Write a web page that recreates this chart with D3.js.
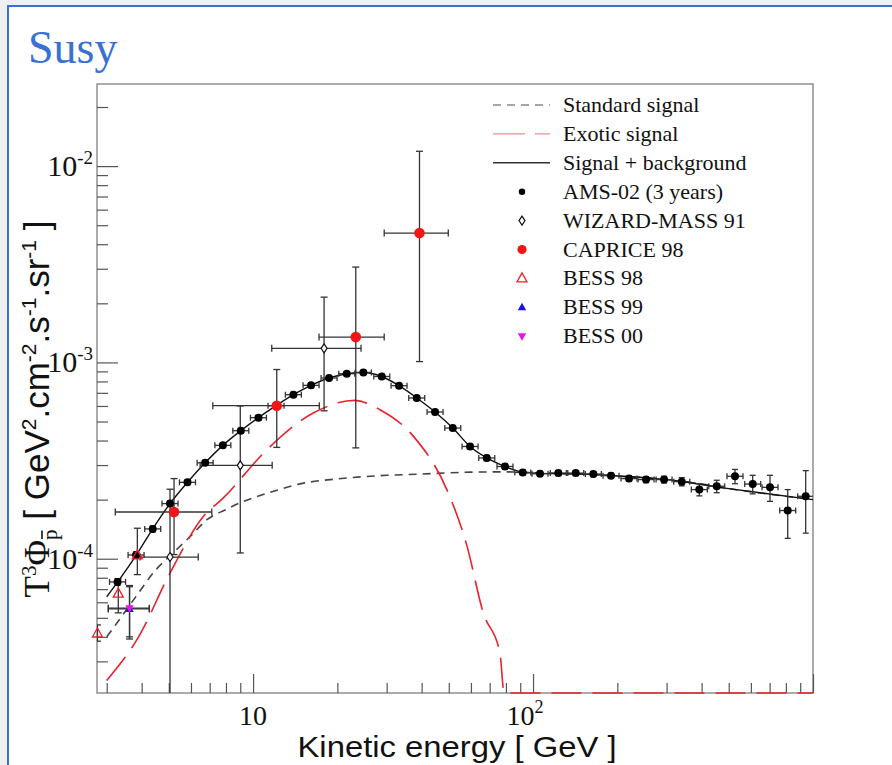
<!DOCTYPE html>
<html>
<head>
<meta charset="utf-8">
<script src="https://cdnjs.cloudflare.com/ajax/libs/d3/7.8.5/d3.min.js"></script>
<style>
  body { margin: 0; background: #eef0f1; }
  svg { display: block; }
</style>
</head>
<body>
<svg id="chart" width="892" height="765"></svg>
<script>
// ---- data ----
// AMS-02 (3 years) simulated points
var amsE = [3.28, 3.82, 4.38, 5.05, 5.83, 6.74, 7.80, 9.04, 10.45, 12.08, 13.93, 16.11, 18.68, 21.61, 24.77,
  28.82, 33.22, 38.42, 44.67, 51.68, 59.57, 68.34, 79.4, 91.9, 105.9, 123.1, 142.1, 164.2, 189.9, 220.2,
  253.3, 293.8, 339.8, 392.6, 453.0, 526.5, 609.0, 702.2, 812.2, 941.7];
var amsV = [7.62e-5, 1.045e-4, 1.419e-4, 1.909e-4, 2.45e-4, 3.08e-4, 3.78e-4, 4.49e-4, 5.23e-4, 6.02e-4,
  6.85e-4, 7.64e-4, 8.33e-4, 8.76e-4, 8.89e-4, 8.48e-4, 7.61e-4, 6.59e-4, 5.59e-4, 4.63e-4, 3.73e-4,
  3.26e-4, 2.95e-4, 2.75e-4, 2.71e-4, 2.73e-4, 2.73e-4, 2.70e-4, 2.65e-4, 2.56e-4, 2.53e-4, 2.53e-4,
  2.47e-4, 2.25e-4, 2.34e-4, 2.63e-4, 2.40e-4, 2.31e-4, 1.76e-4, 2.08e-4];
var amsErr = [0.3e-5, 0.4e-5, 0.5e-5, 0.6e-5, 0.7e-5, 0.9e-5, 1.0e-5, 1.2e-5, 1.4e-5, 1.6e-5, 1.8e-5, 2.0e-5,
  2.1e-5, 2.2e-5, 2.2e-5, 2.2e-5, 2.0e-5, 1.8e-5, 1.6e-5, 1.3e-5, 1.1e-5, 1.0e-5, 0.9e-5, 0.8e-5, 0.8e-5,
  0.8e-5, 0.8e-5, 0.8e-5, 0.8e-5, 0.8e-5, 0.9e-5, 1.0e-5, 1.2e-5, 1.6e-5, 1.7e-5, 2.2e-5, 2.6e-5, 3.5e-5,
  4.9e-5, 7.3e-5];
var amsBinRatio = 1.068; // half bin width, as ratio in energy

// WIZARD-MASS 91
var wizE = [5.05, 9.0, 17.93];
var wizV = [1.02e-4, 2.99e-4, 1.18e-3];
var wizLo = [1e-7, 1.07e-4, 5.67e-4];
var wizHi = [2.26e-4, 6.0e-4, 2.15e-3];
var wizELo = [3.95, 6.47, 11.66];
var wizEHi = [6.37, 11.7, 24.3];

// CAPRICE 98
var capE = [5.22, 12.15, 23.27, 39.3];
var capV = [1.73e-4, 6.02e-4, 1.346e-3, 4.56e-3];
var capLo = [1.05e-4, 3.69e-4, 3.67e-4, 1.01e-3];
var capHi = [2.56e-4, 9.2e-4, 3.06e-3, 1.19e-2];
var capELo = [3.22, 7.18, 17.2, 29.4];
var capEHi = [7.12, 17.24, 29.4, 49.8];

// BESS 98
var b98E = [2.78, 3.30, 3.86];
var b98V = [4.16e-5, 6.64e-5, 1.04e-4];
var b98Lo = [3.8e-5, 5.3e-5, 8.3e-5];
var b98Hi = [4.6e-5, 7.9e-5, 1.43e-4];

// BESS 99 and BESS 00 (same bin)
var b99E = [3.62], b99V = [5.55e-5], b99Lo = [3.9e-5], b99Hi = [7.2e-5], b99ELo = [3.04], b99EHi = [4.26];
var b00E = [3.62], b00V = [5.6e-5], b00Lo = [4.0e-5], b00Hi = [7.3e-5], b00ELo = [3.04], b00EHi = [4.26];

// curves
var stdE = [3.0, 3.5, 3.9, 4.5, 5.0, 6.0, 6.84, 8.0, 9.0, 10, 12, 15, 20, 25, 30, 40, 50, 60, 80, 100, 150,
  200, 300, 400, 485, 700, 1000];
var stdV = [4.0e-5, 5.4e-5, 6.7e-5, 8.8e-5, 1.02e-4, 1.31e-4, 1.58e-4, 1.78e-4, 1.93e-4, 2.04e-4, 2.22e-4,
  2.42e-4, 2.55e-4, 2.62e-4, 2.66e-4, 2.70e-4, 2.74e-4, 2.76e-4, 2.77e-4, 2.74e-4, 2.70e-4, 2.64e-4,
  2.53e-4, 2.40e-4, 2.29e-4, 2.13e-4, 2.0e-4];
var exoE = [3.0, 3.9, 5.06, 6.64, 7.83, 11.2, 16.4, 23.1, 28.4, 37.4, 49.2, 57.9, 66.4, 76.2, 78.7, 80, 1000];
var exoV = [2.4e-5, 4.0e-5, 8.5e-5, 1.64e-4, 2.04e-4, 3.59e-4, 5.52e-4, 6.41e-4, 5.74e-4, 4.2e-4, 2.25e-4,
  1.18e-4, 5.3e-5, 3.3e-5, 2.1e-5, 1e-7, 1e-7];
var totE = [3.0, 3.28, 3.82, 4.38, 5.05, 5.83, 6.74, 7.80, 9.04, 10.45, 12.08, 13.93, 16.11, 18.68, 21.61,
  24.77, 28.82, 33.22, 38.42, 44.67, 51.68, 59.57, 68.34, 79.4, 92, 106, 150, 200, 300, 485, 1000];
var totV = [6.4e-5, 7.6e-5, 1.04e-4, 1.42e-4, 1.91e-4, 2.45e-4, 3.08e-4, 3.78e-4, 4.49e-4, 5.23e-4, 6.02e-4,
  6.85e-4, 7.64e-4, 8.33e-4, 8.76e-4, 8.89e-4, 8.48e-4, 7.61e-4, 6.59e-4, 5.59e-4, 4.63e-4, 3.73e-4,
  3.26e-4, 2.95e-4, 2.76e-4, 2.72e-4, 2.70e-4, 2.64e-4, 2.53e-4, 2.29e-4, 2.0e-4];

// axis ticks
var xMajorTicks = [10, 100, 1000];
var xTickLabels = [["10", ""], ["10", "2"]];
var yMajorTicks = [1e-4, 1e-3, 1e-2];
var yTickLabels = [["10", "-4"], ["10", "-3"], ["10", "-2"]];

var legendItems = ["Standard signal", "Exotic signal", "Signal + background", "AMS-02 (3 years)",
  "WIZARD-MASS 91", "CAPRICE 98", "BESS 98", "BESS 99", "BESS 00"];

// ---- layout ----
var frame = {left: 97, right: 813, top: 84, bottom: 693};
var serif = "'Liberation Serif', 'Times New Roman', serif";
var sans = "'Liberation Sans', Arial, sans-serif";
var red = "#e8232b";

var svg = d3.select("#chart");

// slide panel
svg.append("rect").attr("width", 892).attr("height", 765).attr("fill", "#eef0f1");
svg.append("rect")
  .attr("x", 8).attr("y", 6).attr("width", 900).attr("height", 800)
  .attr("fill", "#fff").attr("stroke", "#3a6fd3").attr("stroke-width", 2);

svg.append("text")
  .attr("x", 28).attr("y", 63)
  .style("font", "46px " + serif)
  .attr("fill", "#3a6fd3")
  .text("Susy");

// scales
var x = d3.scaleLog().domain([2.77, 1000]).range([frame.left, frame.right]);
var y = d3.scaleLog().domain([2.07e-5, 0.0262]).range([frame.bottom, frame.top]).clamp(true);

svg.append("clipPath").attr("id", "clip")
  .append("rect")
  .attr("x", frame.left).attr("y", frame.top)
  .attr("width", frame.right - frame.left).attr("height", frame.bottom - frame.top + 1);

// frame
svg.append("rect")
  .attr("x", frame.left).attr("y", frame.top)
  .attr("width", frame.right - frame.left).attr("height", frame.bottom - frame.top)
  .attr("fill", "none").attr("stroke", "#888").attr("stroke-width", 1.4);

// minor tick values
var xMinor = [], yMinor = [];
[1, 10, 100].forEach(function(d) {
  for (var k = 2; k <= 9; k++) {
    if (d * k > 2.77 && d * k < 1000) xMinor.push(d * k);
  }
});
[1e-5, 1e-4, 1e-3, 1e-2].forEach(function(d) {
  for (var k = 2; k <= 9; k++) {
    if (d * k > 2.07e-5 && d * k < 0.0262) yMinor.push(d * k);
  }
});

function styleAxis(g) {
  g.select(".domain").remove();
  g.selectAll(".tick line").attr("stroke", "#555").attr("stroke-width", 1.2);
  g.selectAll(".tick text").remove();
}

svg.append("g").attr("transform", "translate(0," + frame.bottom + ")")
  .call(d3.axisBottom(x).tickValues(xMajorTicks).tickSize(-19)).call(styleAxis);
svg.append("g").attr("transform", "translate(0," + frame.bottom + ")")
  .call(d3.axisBottom(x).tickValues(xMinor).tickSize(-10)).call(styleAxis);
svg.append("g").attr("transform", "translate(" + frame.left + ",0)")
  .call(d3.axisLeft(y).tickValues(yMajorTicks).tickSize(-21)).call(styleAxis);
svg.append("g").attr("transform", "translate(" + frame.left + ",0)")
  .call(d3.axisLeft(y).tickValues(yMinor).tickSize(-11)).call(styleAxis);

// tick labels
xTickLabels.forEach(function(lab, i) {
  var t = svg.append("text")
    .attr("x", x(xMajorTicks[i]) + (lab[1] ? -8 : 0)).attr("y", 725)
    .attr("text-anchor", "middle")
    .style("font", "28px " + serif).attr("fill", "#111");
  t.append("tspan").text(lab[0]);
  if (lab[1]) t.append("tspan").attr("dy", -12).style("font-size", "18px").text(lab[1]);
});
yTickLabels.forEach(function(lab, i) {
  var t = svg.append("text")
    .attr("x", 93).attr("y", y(yMajorTicks[i]) + 10)
    .attr("text-anchor", "end")
    .style("font", "30px " + serif).attr("fill", "#111");
  t.append("tspan").text(lab[0]);
  t.append("tspan").attr("dy", -12).style("font-size", "19px").text(lab[1]);
});

// axis titles
svg.append("text")
  .attr("x", 457).attr("y", 757)
  .attr("text-anchor", "middle")
  .style("font", "29px " + sans).attr("fill", "#111")
  .attr("textLength", 319).attr("lengthAdjust", "spacingAndGlyphs")
  .text("Kinetic energy [ GeV ]");

var ytG = svg.append("g").attr("transform", "translate(49,409)rotate(-90)");
var yt = ytG.append("text")
  .attr("text-anchor", "middle")
  .style("font", "35px " + sans).attr("fill", "#111");
yt.append("tspan").style("font-family", serif).text("T");
yt.append("tspan").attr("dy", -13).style("font-size", "21px").style("font-family", serif).text("3");
yt.append("tspan").attr("dy", 13).style("font-family", serif).text("Φ");
yt.append("tspan").attr("dy", 8).style("font-size", "21px").style("font-family", serif).text("p");
yt.append("tspan").attr("dy", -8).text(" [ GeV");
yt.append("tspan").attr("dy", -13).style("font-size", "21px").text("2");
yt.append("tspan").attr("dy", 13).text(".cm");
yt.append("tspan").attr("dy", -13).style("font-size", "21px").text("-2");
yt.append("tspan").attr("dy", 13).text(".s");
yt.append("tspan").attr("dy", -13).style("font-size", "21px").text("-1");
yt.append("tspan").attr("dy", 13).text(".sr");
yt.append("tspan").attr("dy", -13).style("font-size", "21px").text("-1");
yt.append("tspan").attr("dy", 13).text(" ]");
// bar over the subscript p (character index 3)
var pStart = yt.node().getStartPositionOfChar(3);
var pEnd = yt.node().getEndPositionOfChar(3);
ytG.append("line")
  .attr("x1", pStart.x + 1).attr("x2", pEnd.x - 1)
  .attr("y1", pStart.y - 15).attr("y2", pStart.y - 15)
  .attr("stroke", "#111").attr("stroke-width", 1.6);

// plot area
var plot = svg.append("g").attr("clip-path", "url(#clip)");

var line = d3.line()
  .x(function(d) { return x(d[0]); })
  .y(function(d) { return y(d[1]); })
  .curve(d3.curveMonotoneX);

plot.append("path").datum(d3.zip(stdE, stdV))
  .attr("d", line).attr("fill", "none")
  .attr("stroke", "#444").attr("stroke-width", 1.6).attr("stroke-dasharray", "8,6");
plot.append("path").datum(d3.zip(exoE, exoV))
  .attr("d", line).attr("fill", "none")
  .attr("stroke", red).attr("stroke-width", 1.6).attr("stroke-dasharray", "30,11");
plot.append("path").datum(d3.zip(totE, totV))
  .attr("d", line).attr("fill", "none")
  .attr("stroke", "#111").attr("stroke-width", 1.4);

// error bars
var errColor = "#333";
function errBars(E, V, ELo, EHi, Lo, Hi, cap) {
  var g = plot.append("g").attr("stroke", errColor).attr("stroke-width", 1.3);
  E.forEach(function(e, i) {
    var cx = x(e), cy = y(V[i]);
    if (ELo && EHi) {
      var xl = x(ELo[i]), xr = x(EHi[i]);
      g.append("line").attr("x1", xl).attr("x2", xr).attr("y1", cy).attr("y2", cy);
      g.append("line").attr("x1", xl).attr("x2", xl).attr("y1", cy - cap).attr("y2", cy + cap);
      g.append("line").attr("x1", xr).attr("x2", xr).attr("y1", cy - cap).attr("y2", cy + cap);
    }
    if (Lo && Hi) {
      var yl = y(Lo[i]), yh = y(Hi[i]);
      g.append("line").attr("x1", cx).attr("x2", cx).attr("y1", yl).attr("y2", yh);
      g.append("line").attr("x1", cx - cap).attr("x2", cx + cap).attr("y1", yh).attr("y2", yh);
      if (Lo[i] > 2.07e-5)
        g.append("line").attr("x1", cx - cap).attr("x2", cx + cap).attr("y1", yl).attr("y2", yl);
    }
  });
}

errBars(amsE, amsV,
  amsE.map(function(e) { return e / amsBinRatio; }),
  amsE.map(function(e) { return e * amsBinRatio; }),
  amsE.map(function(e, i) { return amsV[i] - amsErr[i]; }),
  amsE.map(function(e, i) { return amsV[i] + amsErr[i]; }), 3);
errBars(wizE, wizV, wizELo, wizEHi, wizLo, wizHi, 3.5);
errBars(capE, capV, capELo, capEHi, capLo, capHi, 3.5);
errBars(b98E, b98V, null, null, b98Lo, b98Hi, 3.5);
errBars(b99E, b99V, b99ELo, b99EHi, b99Lo, b99Hi, 3.5);
errBars(b00E, b00V, b00ELo, b00EHi, b00Lo, b00Hi, 3.5);

// marker shapes
var diamond = "M0,-4.5L3,0L0,4.5L-3,0Z";
var triUp = "M0,-5.5L5,3.5L-5,3.5Z";
var triUpSmall = "M0,-4.5L4.2,3L-4.2,3Z";
var triDown = "M0,4.5L4.2,-3L-4.2,-3Z";

var markG = svg.append("g");
function markers(E, V, draw) {
  E.forEach(function(e, i) { draw(markG, x(e), y(V[i])); });
}

markers(amsE, amsV, function(g, cx, cy) {
  g.append("circle").attr("cx", cx).attr("cy", cy).attr("r", 4).attr("fill", "#000");
});
markers(wizE, wizV, function(g, cx, cy) {
  g.append("path").attr("d", diamond).attr("transform", "translate(" + cx + "," + cy + ")")
    .attr("fill", "#fff").attr("stroke", "#111").attr("stroke-width", 1.2);
});
markers(capE, capV, function(g, cx, cy) {
  g.append("circle").attr("cx", cx).attr("cy", cy).attr("r", 5.3).attr("fill", "#f01616");
});
markers(b98E, b98V, function(g, cx, cy) {
  g.append("path").attr("d", triUp).attr("transform", "translate(" + cx + "," + cy + ")")
    .attr("fill", "none").attr("stroke", red).attr("stroke-width", 1.3);
});
markers(b99E, b99V, function(g, cx, cy) {
  g.append("path").attr("d", triUpSmall).attr("transform", "translate(" + cx + "," + cy + ")")
    .attr("fill", "#1414e6");
});
markers(b00E, b00V, function(g, cx, cy) {
  g.append("path").attr("d", triDown).attr("transform", "translate(" + cx + "," + cy + ")")
    .attr("fill", "#e614e6");
});

// legend
var legX = 493, legTextX = 563, legY0 = 105, legStep = 28.9;
var leg = svg.append("g");
legendItems.forEach(function(name, i) {
  var ly = legY0 + i * legStep;
  var mx = 522;
  if (i === 0) leg.append("line").attr("x1", legX).attr("x2", 550).attr("y1", ly).attr("y2", ly)
    .attr("stroke", "#888").attr("stroke-width", 1.4).attr("stroke-dasharray", "8,6");
  if (i === 1) leg.append("line").attr("x1", legX).attr("x2", 550).attr("y1", ly).attr("y2", ly)
    .attr("stroke", "#f08a90").attr("stroke-width", 1.4).attr("stroke-dasharray", "32,10");
  if (i === 2) leg.append("line").attr("x1", legX).attr("x2", 550).attr("y1", ly).attr("y2", ly)
    .attr("stroke", "#333").attr("stroke-width", 1.4);
  if (i === 3) leg.append("circle").attr("cx", mx).attr("cy", ly).attr("r", 3.2).attr("fill", "#000");
  if (i === 4) leg.append("path").attr("d", diamond).attr("transform", "translate(" + mx + "," + ly + ")")
    .attr("fill", "#fff").attr("stroke", "#111").attr("stroke-width", 1.2);
  if (i === 5) leg.append("circle").attr("cx", mx).attr("cy", ly).attr("r", 4.6).attr("fill", "#f01616");
  if (i === 6) leg.append("path").attr("d", triUp).attr("transform", "translate(" + mx + "," + ly + ")")
    .attr("fill", "none").attr("stroke", red).attr("stroke-width", 1.3);
  if (i === 7) leg.append("path").attr("d", triUpSmall).attr("transform", "translate(" + mx + "," + ly + ")")
    .attr("fill", "#1414e6");
  if (i === 8) leg.append("path").attr("d", triDown).attr("transform", "translate(" + mx + "," + ly + ")")
    .attr("fill", "#e614e6");
  leg.append("text")
    .attr("x", legTextX).attr("y", ly + 7)
    .style("font", "22px " + serif).attr("fill", "#111")
    .text(name);
});
</script>
</body>
</html>
